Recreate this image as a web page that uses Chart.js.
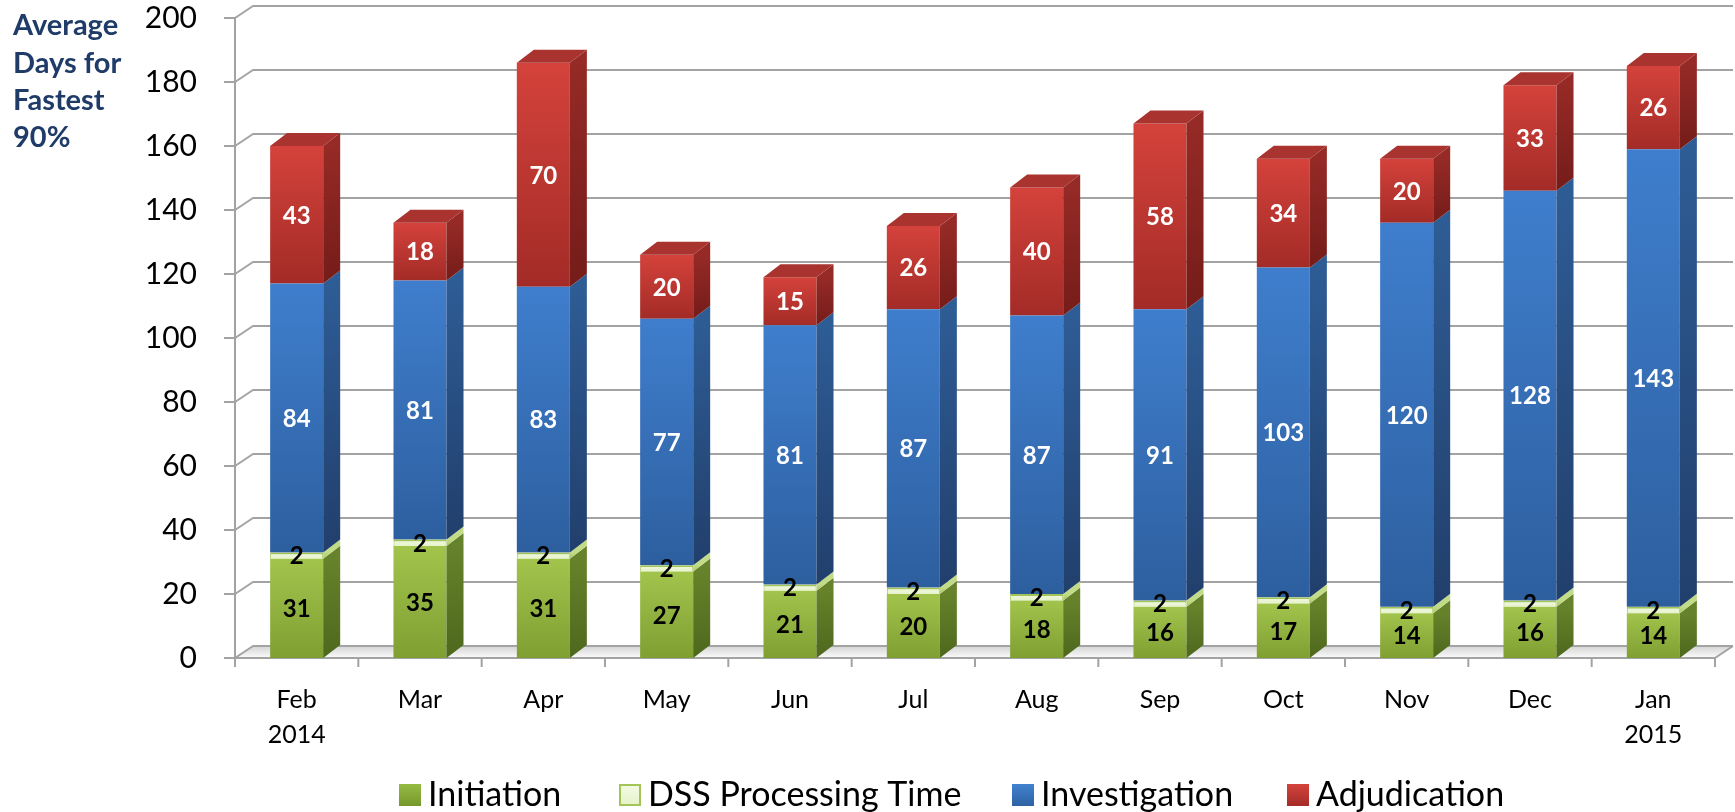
<!DOCTYPE html>
<html>
<head>
<meta charset="utf-8">
<title>Average Days for Fastest 90%</title>
<script src="https://cdn.jsdelivr.net/npm/chart.js@4.4.1/dist/chart.umd.min.js"></script>
<style>
  html, body { margin: 0; padding: 0; background: #ffffff; }
  canvas { display: block; }
</style>
</head>
<body>
<canvas id="chart" width="1735" height="812"></canvas>
<script>
// ---- data ----
const categories = [['Feb', '2014'], 'Mar', 'Apr', 'May', 'Jun', 'Jul', 'Aug', 'Sep', 'Oct', 'Nov', 'Dec', ['Jan', '2015']];
const initiation    = [31, 35, 31, 27, 21, 20, 18, 16, 17, 14, 16, 14];
const dssProcessing = [2, 2, 2, 2, 2, 2, 2, 2, 2, 2, 2, 2];
const investigation = [84, 81, 83, 77, 81, 87, 87, 91, 103, 120, 128, 143];
const adjudication  = [43, 18, 70, 20, 15, 26, 40, 58, 34, 20, 33, 26];
const seriesNames   = ['Initiation', 'DSS Processing Time', 'Investigation', 'Adjudication'];
const yTickValues   = [0, 20, 40, 60, 80, 100, 120, 140, 160, 180, 200];
const axisTitleLines = ['Average', 'Days for', 'Fastest', '90%'];

const series = [initiation, dssProcessing, investigation, adjudication];

// ---- styling ----
const FONT = 'Lato, "Open Sans", sans-serif';
const faces = [
  { top: '#a2c44c', bottom: '#7f9f32', side: ['#66822a', '#4e681d'], cap: '#8fb03c', label: '#000000', legend: ['#96bb43', '#76972c'], border: null },
  { top: '#f0f9df', bottom: '#e6f3cc', side: ['#c2db86', '#aac86a'], cap: '#d6e9ad', label: '#000000', legend: ['#f4fbe6', '#e4f2c8'], border: '#a3c557' },
  { top: '#3f7ecd', bottom: '#2d5f9f', side: ['#2e5c95', '#213f6c'], cap: '#3567a8', label: '#ffffff', legend: ['#4282d0', '#2e62a3'], border: null },
  { top: '#d4423b', bottom: '#a32b27', side: ['#952a26', '#751c19'], cap: '#a9332f', label: '#ffffff', legend: ['#d4433c', '#a52c28'], border: null }
];
const GRID_COLOR = '#a3a3a3';
const TITLE_COLOR = '#1f3b68';
const BAR_DX = 17, BAR_DY = 13;   // bar depth
const WALL_DX = 18, WALL_DY = 12; // back wall offset
const LEGEND_X = [399, 619, 1012, 1287]; // left edge of each legend swatch

function stackRange(ds, i) {
  let lo = 0;
  for (let k = 0; k < ds; k++) lo += series[k][i];
  return [lo, lo + series[ds][i]];
}

function frontFill(ds) {
  return (ctx) => {
    const chart = ctx.chart;
    if (!chart.chartArea || ctx.type !== 'data') return faces[ds].top;
    const [lo, hi] = stackRange(ds, ctx.dataIndex);
    const y = chart.scales.y;
    const y0 = y.getPixelForValue(hi), y1 = y.getPixelForValue(lo);
    if (!isFinite(y0) || !isFinite(y1) || y0 === y1) return faces[ds].top;
    const g = chart.ctx.createLinearGradient(0, y0, 0, y1);
    g.addColorStop(0, faces[ds].top);
    g.addColorStop(1, faces[ds].bottom);
    return g;
  };
}

// ---- 3D walls, floor and axes drawn behind the bars ----
const wallsPlugin = {
  id: 'walls',
  beforeDatasetsDraw(chart) {
    const { ctx, chartArea: { left, right, bottom }, scales: { y } } = chart;
    ctx.save();

    // floor
    const floor = ctx.createLinearGradient(0, bottom - WALL_DY, 0, bottom);
    floor.addColorStop(0, '#d4d4d4');
    floor.addColorStop(1, '#fbfbfb');
    ctx.fillStyle = floor;
    ctx.beginPath();
    ctx.moveTo(left, bottom);
    ctx.lineTo(right, bottom);
    ctx.lineTo(right + WALL_DX, bottom - WALL_DY);
    ctx.lineTo(left + WALL_DX, bottom - WALL_DY);
    ctx.closePath();
    ctx.fill();

    ctx.strokeStyle = GRID_COLOR;
    ctx.lineWidth = 2;
    ctx.lineJoin = 'round';

    // back wall gridlines with the side wall diagonals
    yTickValues.forEach(v => {
      const py = y.getPixelForValue(v);
      ctx.beginPath();
      ctx.moveTo(left, py);
      ctx.lineTo(left + WALL_DX, py - WALL_DY);
      ctx.lineTo(right + WALL_DX, py - WALL_DY);
      ctx.stroke();
      // tick mark on the front axis
      ctx.beginPath();
      ctx.moveTo(left - 11, py);
      ctx.lineTo(left, py);
      ctx.stroke();
    });

    // front vertical axis
    ctx.beginPath();
    ctx.moveTo(left, y.getPixelForValue(yTickValues[yTickValues.length - 1]));
    ctx.lineTo(left, bottom);
    ctx.stroke();

    // front floor edge and right edge
    ctx.beginPath();
    ctx.moveTo(left, bottom);
    ctx.lineTo(right, bottom);
    ctx.lineTo(right + WALL_DX, bottom - WALL_DY);
    ctx.stroke();

    // category boundary ticks
    const n = categories.length;
    for (let i = 0; i <= n; i++) {
      const px = left + (right - left) * i / n;
      ctx.beginPath();
      ctx.moveTo(px, bottom);
      ctx.lineTo(px, bottom + 9);
      ctx.stroke();
    }
    ctx.restore();
  },

  // side faces, caps and value labels
  afterDatasetsDraw(chart) {
    const { ctx } = chart;
    ctx.save();
    const metas = chart.getSortedVisibleDatasetMetas();
    metas.forEach(meta => {
      const ds = meta.index;
      meta.data.forEach(bar => {
        const { x, y, base, width } = bar.getProps(['x', 'y', 'base', 'width'], true);
        const l = x - width / 2, r = x + width / 2;
        // side face
        const sg = ctx.createLinearGradient(0, y, 0, base);
        sg.addColorStop(0, faces[ds].side[0]);
        sg.addColorStop(1, faces[ds].side[1]);
        ctx.fillStyle = sg;
        ctx.beginPath();
        ctx.moveTo(r, y);
        ctx.lineTo(r + BAR_DX, y - BAR_DY);
        ctx.lineTo(r + BAR_DX, base - BAR_DY);
        ctx.lineTo(r, base);
        ctx.closePath();
        ctx.fill();
        // cap on the topmost segment
        if (ds === series.length - 1) {
          ctx.fillStyle = faces[ds].cap;
          ctx.beginPath();
          ctx.moveTo(l, y);
          ctx.lineTo(l + BAR_DX, y - BAR_DY);
          ctx.lineTo(r + BAR_DX, y - BAR_DY);
          ctx.lineTo(r, y);
          ctx.closePath();
          ctx.fill();
        }
      });
    });
    // labels on top of everything
    metas.forEach(meta => {
      const ds = meta.index;
      meta.data.forEach((bar, i) => {
        const { x, y, base } = bar.getProps(['x', 'y', 'base'], true);
        ctx.fillStyle = faces[ds].label;
        ctx.font = `bold 24px ${FONT}`;
        ctx.textAlign = 'center';
        ctx.textBaseline = 'middle';
        ctx.fillText(String(series[ds][i]), x, (y + base) / 2 + 1);
      });
    });
    ctx.restore();
  },

  afterDraw(chart) {
    const { ctx } = chart;
    ctx.save();
    // axis title
    ctx.fillStyle = TITLE_COLOR;
    ctx.font = `bold 29px ${FONT}`;
    ctx.textAlign = 'left';
    ctx.textBaseline = 'middle';
    axisTitleLines.forEach((t, k) => ctx.fillText(t, 13, 26 + k * 37.3));

    // legend
    ctx.font = `34px ${FONT}`;
    ctx.textBaseline = 'middle';
    const ly = 795, bw = 22, bh = 22;
    seriesNames.forEach((name, k) => {
      const lx = LEGEND_X[k];
      const g = ctx.createLinearGradient(0, ly - bh / 2, 0, ly + bh / 2);
      g.addColorStop(0, faces[k].legend[0]);
      g.addColorStop(1, faces[k].legend[1]);
      ctx.fillStyle = g;
      ctx.fillRect(lx, ly - bh / 2, bw, bh);
      if (faces[k].border) {
        ctx.strokeStyle = faces[k].border;
        ctx.lineWidth = 2;
        ctx.strokeRect(lx + 1, ly - bh / 2 + 1, bw - 2, bh - 2);
      }
      ctx.fillStyle = '#000000';
      ctx.fillText(name, lx + 29, ly);
    });
    ctx.restore();
  }
};

const datasets = series.map((data, k) => ({
  label: seriesNames[k],
  data: data,
  backgroundColor: frontFill(k),
  borderColor: faces[k].border || 'rgba(0,0,0,0)',
  borderWidth: faces[k].border ? { top: 2, bottom: 0, left: 1, right: 1 } : 0,
  borderSkipped: false,
  barPercentage: 0.43,
  categoryPercentage: 1.0
}));

new Chart(document.getElementById('chart'), {
  type: 'bar',
  data: { labels: categories, datasets },
  options: {
    responsive: false,
    animation: false,
    devicePixelRatio: 1,
    layout: { padding: { left: 0, right: 20, top: 0, bottom: 0 } },
    plugins: {
      legend: { display: false },
      tooltip: { enabled: false }
    },
    scales: {
      x: {
        stacked: true,
        grid: { display: false, drawTicks: false },
        border: { display: false },
        ticks: {
          color: '#000000',
          font: { family: FONT, size: 25, lineHeight: 1.42 },
          padding: 24,
          maxRotation: 0,
          autoSkip: false
        },
        afterFit(scale) { scale.height = 154; }
      },
      y: {
        stacked: true,
        min: 0,
        max: 200,
        // tick marks are drawn by the walls plugin; tickLength only reserves the gap before the labels
        grid: { display: false, drawTicks: true, tickLength: 38, color: 'rgba(0,0,0,0)' },
        border: { display: false },
        ticks: {
          stepSize: 20,
          color: '#000000',
          font: { family: FONT, size: 30 },
          padding: 0
        },
        afterFit(scale) { scale.width = 235; }
      }
    }
  },
  plugins: [wallsPlugin]
});
</script>
</body>
</html>
